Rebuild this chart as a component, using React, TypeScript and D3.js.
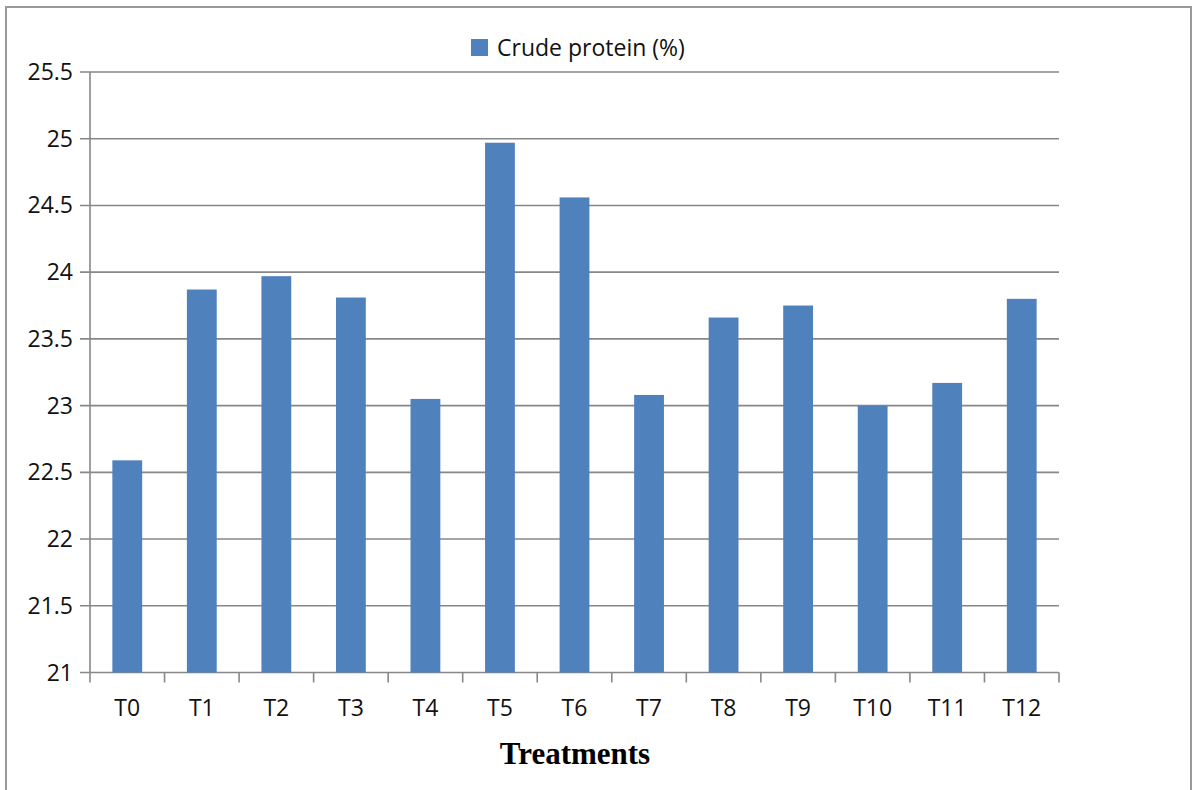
import React, { useEffect, useRef } from 'react';
import * as d3 from 'd3';

const categories = ['T0', 'T1', 'T2', 'T3', 'T4', 'T5', 'T6', 'T7', 'T8', 'T9', 'T10', 'T11', 'T12'];
const crudeProtein = [22.59, 23.87, 23.97, 23.81, 23.05, 24.97, 24.56, 23.08, 23.66, 23.75, 23.0, 23.17, 23.8];
const yTicks = [21, 21.5, 22, 22.5, 23, 23.5, 24, 24.5, 25, 25.5];
const seriesLabel = 'Crude protein (%)';
const xTitle = 'Treatments';

const App: React.FC = () => {
  const svgRef = useRef<SVGSVGElement>(null);

  useEffect(() => {
    if (!svgRef.current) return;
    const svg = d3.select(svgRef.current);
    svg.selectAll('*').remove();

    const width = 1196;
    const height = 790;
    const left = 90;
    const right = 1059;
    const top = 72;
    const bottom = 672.5;
    const gridColor = '#878787';
    const barColor = '#4F81BD';
    const font = '"Open Sans", Lato, sans-serif';

    svg.attr('width', width).attr('height', height);

    svg.append('rect')
      .attr('x', 0).attr('y', 0)
      .attr('width', width).attr('height', height)
      .attr('fill', '#fff');

    // outer frame (bottom edge is cropped out of view)
    svg.append('path')
      .attr('d', `M6,${height + 5} L6,7 L1191,7 L1191,${height + 5}`)
      .attr('fill', 'none')
      .attr('stroke', '#9a9a9a')
      .attr('stroke-width', 2);

    const x = d3.scaleBand<string>()
      .domain(categories)
      .range([left, right])
      .padding(0);

    const y = d3.scaleLinear()
      .domain([21, 25.5])
      .range([bottom, top]);

    // grid lines
    svg.append('g')
      .selectAll('line')
      .data(yTicks)
      .enter()
      .append('line')
      .attr('x1', left - 10)
      .attr('x2', right)
      .attr('y1', d => y(d))
      .attr('y2', d => y(d))
      .attr('stroke', gridColor)
      .attr('stroke-width', 1.6);

    // y tick labels
    svg.append('g')
      .selectAll('text')
      .data(yTicks)
      .enter()
      .append('text')
      .attr('x', left - 17)
      .attr('y', d => y(d))
      .attr('dy', '0.35em')
      .attr('text-anchor', 'end')
      .style('font-family', font)
      .style('font-size', '23px')
      .attr('fill', '#111')
      .text(d => String(d));

    // bars
    const barW = x.bandwidth() * 0.4;
    svg.append('g')
      .selectAll('rect')
      .data(crudeProtein)
      .enter()
      .append('rect')
      .attr('x', (_, i) => (x(categories[i]) as number) + (x.bandwidth() - barW) / 2)
      .attr('y', d => y(d))
      .attr('width', barW)
      .attr('height', d => y(21) - y(d))
      .attr('fill', barColor);

    // y axis line
    svg.append('line')
      .attr('x1', left).attr('x2', left)
      .attr('y1', top).attr('y2', bottom)
      .attr('stroke', gridColor)
      .attr('stroke-width', 1.6);

    // x axis ticks at category boundaries
    const boundaries = categories.map(c => x(c) as number).concat([right]);
    svg.append('g')
      .selectAll('line')
      .data(boundaries)
      .enter()
      .append('line')
      .attr('x1', d => d).attr('x2', d => d)
      .attr('y1', bottom).attr('y2', bottom + 10)
      .attr('stroke', gridColor)
      .attr('stroke-width', 1.6);

    // x tick labels
    svg.append('g')
      .selectAll('text')
      .data(categories)
      .enter()
      .append('text')
      .attr('x', d => (x(d) as number) + x.bandwidth() / 2)
      .attr('y', 708)
      .attr('dy', '0.35em')
      .attr('text-anchor', 'middle')
      .style('font-family', font)
      .style('font-size', '23px')
      .attr('fill', '#111')
      .text(d => d);

    // x axis title
    svg.append('text')
      .attr('x', 575)
      .attr('y', 753)
      .attr('dy', '0.35em')
      .attr('text-anchor', 'middle')
      .style('font-family', '"Liberation Serif", "Times New Roman", serif')
      .style('font-weight', 'bold')
      .style('font-size', '31px')
      .attr('fill', '#000')
      .text(xTitle);

    // legend
    const legend = svg.append('g').attr('transform', 'translate(471,39)');
    legend.append('rect')
      .attr('width', 17)
      .attr('height', 17)
      .attr('fill', barColor);
    legend.append('text')
      .attr('x', 26)
      .attr('y', 9)
      .attr('dy', '0.35em')
      .style('font-family', font)
      .style('font-size', '23px')
      .attr('fill', '#111')
      .text(seriesLabel);
  }, []);

  return (
    <svg ref={svgRef} style={{ position: 'absolute', left: 0, top: 0, display: 'block' }}></svg>
  );
};

export default App;
